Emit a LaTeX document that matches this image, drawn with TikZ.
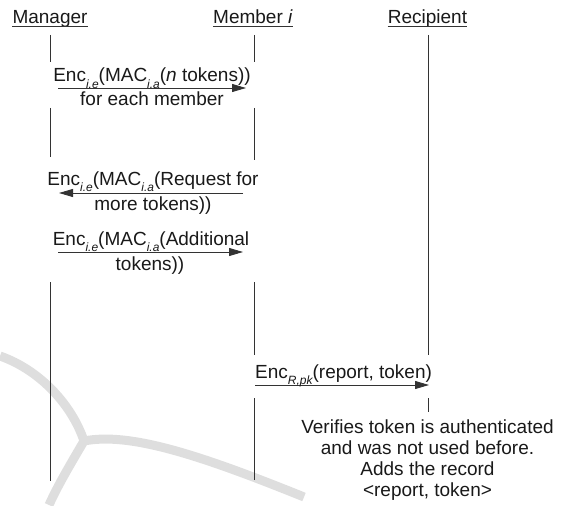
\documentclass[tikz,border=0pt]{standalone}
\usepackage{fontspec}
\setmainfont{Liberation Sans}
\usetikzlibrary{arrows.meta}
\newcommand{\lsub}[1]{\raisebox{-6.5pt}{\fontsize{12}{12}\selectfont\itshape #1}}
\begin{document}
\begin{tikzpicture}[x=1pt,y=-1pt,
  lbl/.style={anchor=base,inner sep=0pt,font=\fontsize{19}{21}\selectfont,text=black!90},
  life/.style={line width=0.9pt,draw=black!80},
  msg/.style={line width=0.9pt,draw=black!80,-{Triangle[length=14pt,width=8pt]}},
  uline/.style={line width=1pt,draw=black!80},
  wm/.style={line width=9pt,draw=black!13}]
\useasboundingbox (0,0) rectangle (561,505);
% watermark
\coordinate (wj) at (84,441);
\draw[wm] (0,356) .. controls (40,370) and (72,405) .. (wj);
\draw[wm] (wj) .. controls (130,432) and (200,455) .. (304,497);
\draw[wm] (wj) .. controls (70,465) and (58,485) .. (49,505);
% headers
\node[lbl] (mgr) at (50,24) {Manager};
\node[lbl] (mem) at (253,24) {Member \textit{i}};
\node[lbl] (rec) at (427.5,24) {Recipient};
\foreach \n in {mgr,mem,rec}
  \draw[uline] ([yshift=-2.5pt]\n.base west) -- ([yshift=-2.5pt]\n.base east);
% lifeline coordinates
\coordinate (a1) at (50,35);  \coordinate (a2) at (50,62);
\coordinate (a3) at (50,108); \coordinate (a4) at (50,157);
\coordinate (a5) at (50,282); \coordinate (a6) at (50,481);
\coordinate (b1) at (254,35);  \coordinate (b2) at (254,62);
\coordinate (b3) at (254,108); \coordinate (b4) at (254,160);
\coordinate (b5) at (254,282); \coordinate (b6) at (254,355);
\coordinate (b7) at (254,398); \coordinate (b8) at (254,480);
\coordinate (c1) at (428,35);  \coordinate (c2) at (428,355);
\coordinate (c3) at (428,398); \coordinate (c4) at (428,412);
\draw[life] (a1) -- (a2); \draw[life] (a3) -- (a4); \draw[life] (a5) -- (a6);
\draw[life] (b1) -- (b2); \draw[life] (b3) -- (b4); \draw[life] (b5) -- (b6); \draw[life] (b7) -- (b8);
\draw[life] (c1) -- (c2); \draw[life] (c3) -- (c4);
% message 1
\coordinate (m1s) at (58,88); \coordinate (m1e) at (246,88);
\draw[msg] (m1s) -- (m1e);
\node[lbl] (m1a) at (152,82) {Enc\lsub{i.e}(MAC\lsub{i.a}(\textit{n} tokens))};
\node[lbl] (m1b) at (152,106) {for each member};
% message 2
\coordinate (m2s) at (243,193); \coordinate (m2e) at (59,193);
\draw[msg] (m2s) -- (m2e);
\node[lbl] (m2a) at (153,185) {Enc\lsub{i.e}(MAC\lsub{i.a}(Request for};
\node[lbl] (m2b) at (153,210) {more tokens))};
% message 3
\coordinate (m3s) at (58,252); \coordinate (m3e) at (243,252);
\draw[msg] (m3s) -- (m3e);
\node[lbl] (m3a) at (151,245) {Enc\lsub{i.e}(MAC\lsub{i.a}(Additional};
\node[lbl] (m3b) at (150,270) {tokens))};
% message 4
\coordinate (m4s) at (255,385); \coordinate (m4e) at (429,385);
\draw[msg] (m4s) -- (m4e);
\node[lbl,anchor=base west] (m4a) at (255,378) {Enc\lsub{R,pk}(report, token)};
% note
\node[lbl,anchor=north,align=center] (note) at (427.5,420)
  {Verifies token is authenticated\\and was not used before.\\Adds the record\\\textless report, token\textgreater};
\end{tikzpicture}
\end{document}
